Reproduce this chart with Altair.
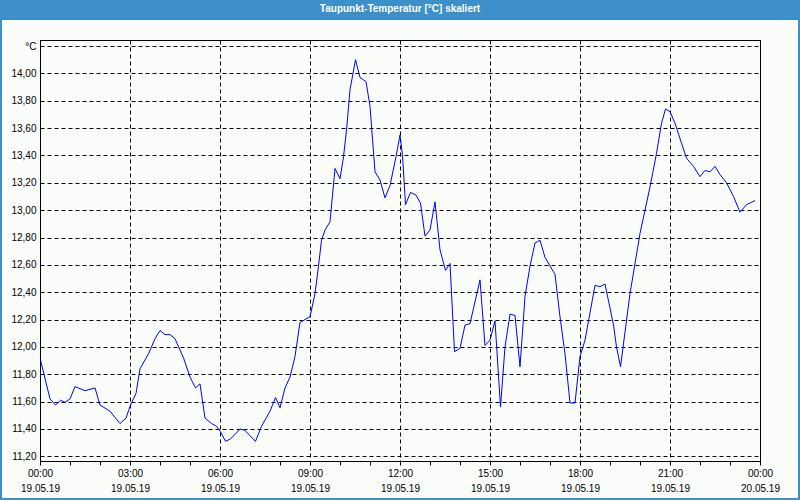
import altair as alt
import pandas as pd

# Messzeitpunkte (19.05.19) und Taupunkt-Temperatur in °C
times = ["00:00", "00:20", "00:31", "00:41", "00:50", "01:00", "01:10", "01:30", "01:50", "02:00",
         "02:20", "02:40", "02:52", "03:01", "03:12", "03:20", "03:37", "03:50", "04:00", "04:10",
         "04:20", "04:30", "04:47", "05:00", "05:11", "05:20", "05:30", "05:43", "05:53", "06:01",
         "06:11", "06:20", "06:30", "06:40", "06:50", "07:00", "07:11", "07:23", "07:40", "07:51",
         "08:00", "08:10", "08:20", "08:30", "08:40", "09:00", "09:10", "09:17", "09:23", "09:30",
         "09:40", "09:50", "10:00", "10:07", "10:13", "10:20", "10:31", "10:40", "10:52", "11:00",
         "11:10", "11:20", "11:30", "11:40", "11:52", "12:00", "12:05", "12:11", "12:21", "12:32",
         "12:41", "12:50", "13:00", "13:10", "13:20", "13:31", "13:40", "13:49", "14:00", "14:10",
         "14:20", "14:40", "14:50", "15:00", "15:10", "15:21", "15:30", "15:40", "15:50", "16:00",
         "16:10", "16:20", "16:30", "16:40", "16:50", "17:10", "17:20", "17:30", "17:40", "17:50",
         "18:00", "18:10", "18:30", "18:40", "18:50", "19:07", "19:13", "19:21", "19:40", "20:00",
         "20:20", "20:33", "20:43", "20:51", "21:00", "21:10", "21:23", "21:33", "21:47", "22:00",
         "22:10", "22:20", "22:30", "22:40", "22:53", "23:07", "23:20", "23:33", "23:50"]
values = [11.92, 11.62, 11.575, 11.61, 11.595, 11.62, 11.71, 11.68, 11.70, 11.575,
          11.53, 11.44, 11.48, 11.575, 11.66, 11.84, 11.95, 12.06, 12.12, 12.09,
          12.09, 12.06, 11.92, 11.78, 11.70, 11.73, 11.48, 11.44, 11.42, 11.38,
          11.31, 11.325, 11.36, 11.40, 11.39, 11.35, 11.31, 11.42, 11.53, 11.63,
          11.555, 11.70, 11.78, 11.93, 12.18, 12.22, 12.39, 12.59, 12.78, 12.855,
          12.915, 13.305, 13.23, 13.39, 13.585, 13.88, 14.10, 13.97, 13.94, 13.76,
          13.28, 13.22, 13.09, 13.18, 13.39, 13.55, 13.40, 13.04, 13.13, 13.11,
          13.05, 12.81, 12.855, 13.06, 12.71, 12.56, 12.61, 11.965, 11.99, 12.16,
          12.17, 12.49, 12.01, 12.05, 12.19, 11.56, 12.00, 12.24, 12.23, 11.855,
          12.37, 12.59, 12.76, 12.78, 12.655, 12.53, 12.22, 11.95, 11.59, 11.59,
          11.93, 12.05, 12.45, 12.44, 12.46, 12.16, 12.00, 11.855, 12.39, 12.83,
          13.17, 13.415, 13.635, 13.74, 13.72, 13.635, 13.49, 13.38, 13.32, 13.245,
          13.29, 13.28, 13.32, 13.26, 13.20, 13.10, 12.985, 13.04, 13.07]

y_ticks = [11.2, 11.4, 11.6, 11.8, 12.0, 12.2, 12.4, 12.6, 12.8, 13.0, 13.2, 13.4, 13.6, 13.8, 14.0, 14.2]
x_hours = list(range(0, 24))
title_text = ["Taupunkt-Temperatur [°C] skaliert"]

df = pd.DataFrame({"t": ["2019-05-19T" + t + ":00" for t in times], "v": values})

BLUE = "#3c8fc8"
FONT = "Liberation Sans"
TITLE_FONT = "Liberation Sans Narrow, Liberation Sans"

x_ticks = [alt.DateTime(year=2019, month=5, date=19, hours=h) for h in x_hours] + \
          [alt.DateTime(year=2019, month=5, date=20, hours=0)]

x_axis = alt.Axis(
    values=x_ticks,
    labelExpr="hours(datum.value) % 3 == 0 ? [timeFormat(datum.value, '%H:%M'), timeFormat(datum.value, '%d.%m.%y')] : ''",
    grid=True,
    gridOpacity={"condition": {"test": "hours(datum.value) % 3 == 0", "value": 1}, "value": 0},
    gridColor="black", gridDash=[4, 3], gridWidth=1,
    tickSize=4, tickColor="black", domainColor="black",
    labelFont=FONT, labelFontSize=10, labelColor="black",
    labelPadding=3, labelLineHeight=15, labelOverlap=False, labelFlush=False,
    title=None,
)
y_axis = alt.Axis(
    values=y_ticks,
    labelExpr="datum.value >= 14.1 ? '°C' : replace(format(datum.value, '.2f'), '.', ',')",
    grid=True, gridColor="black", gridDash=[4, 3], gridWidth=1,
    ticks=False, domainColor="black",
    labelFont=FONT, labelFontSize=10, labelColor="black",
    labelPadding=4, labelOverlap=False, labelFlush=False,
    title=None,
)

line = alt.Chart(df).mark_line(color="#0000ff", strokeWidth=1, clip=True).encode(
    x=alt.X("t:T", axis=x_axis,
            scale=alt.Scale(domain=[alt.DateTime(year=2019, month=5, date=19, hours=0),
                                    alt.DateTime(year=2019, month=5, date=20, hours=0)])),
    y=alt.Y("v:Q", axis=y_axis, scale=alt.Scale(domain=[11.166, 14.244], nice=False, zero=False)),
)

deco = pd.DataFrame({"k": [0]})
bar = alt.Chart(deco).mark_rect(color=BLUE).encode(
    x=alt.value(-40), x2=alt.value(760), y=alt.value(-40), y2=alt.value(-20)
)
border = alt.Chart(deco).mark_rect(filled=False, stroke=BLUE, strokeWidth=2).encode(
    x=alt.value(-39), x2=alt.value(759), y=alt.value(-39), y2=alt.value(459)
)
title = alt.Chart(pd.DataFrame({"title": title_text})).mark_text(
    color="white", font=TITLE_FONT, fontSize=10, fontWeight="bold",
    align="center", baseline="middle"
).encode(x=alt.value(360), y=alt.value(-31), text="title:N")

chart = alt.layer(bar, border, title, line).properties(
    width=720, height=421,
    autosize="none",
    padding={"left": 40, "top": 40, "right": 40, "bottom": 39},
).configure(background="#fafcfa").configure_view(stroke="black", strokeWidth=1)

chart.save("out.html", embed_options={"renderer": "svg", "actions": False})
